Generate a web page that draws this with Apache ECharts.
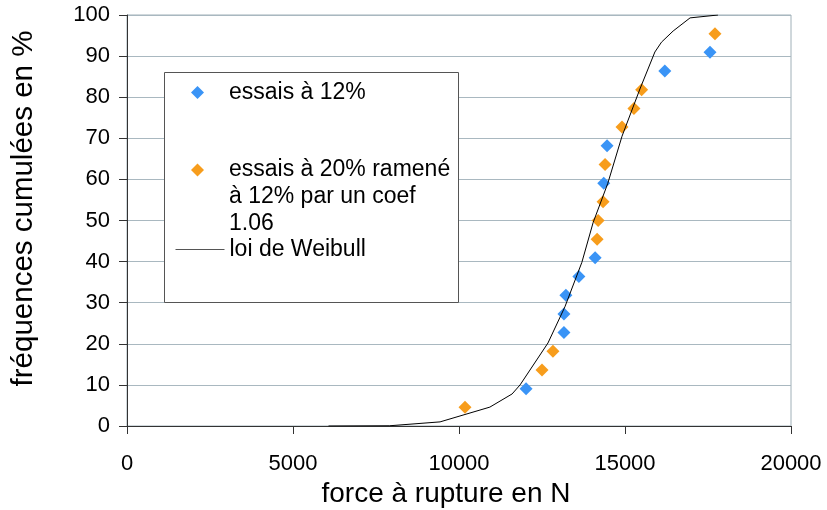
<!DOCTYPE html>
<html>
<head>
<meta charset="utf-8">
<script src="https://cdn.jsdelivr.net/npm/echarts@6/dist/echarts.min.js"></script>
<style>
  html, body { margin: 0; padding: 0; background: #fff; }
  #chart { width: 827px; height: 510px; }
</style>
</head>
<body>
<div id="chart"></div>
<script>
// essais à 12%
const blueX = [12020, 13160, 13160, 13220, 13610, 14100, 14360, 14460, 16200, 17560]
const blueY = [9.09, 22.73, 27.27, 31.82, 36.36, 40.91, 59.09, 68.18, 86.36, 90.91]
// essais à 20% ramené à 12%
const orangeX = [10180, 12500, 12830, 14160, 14190, 14340, 14400, 14910, 15270, 15500, 17710]
const orangeY = [4.55, 13.64, 18.18, 45.45, 50.0, 54.55, 63.64, 72.73, 77.27, 81.82, 95.45]
// loi de Weibull
const weibullX = [6070, 7900, 9430, 10930, 11600, 11840, 12680, 13190, 13700, 14040, 14480, 14910, 15450, 15900, 16100, 16450, 16960, 17800]
const weibullY = [0, 0.05, 1.0, 4.6, 7.8, 10, 20.2, 29, 39.8, 49.5, 59, 70.5, 82, 91, 93.4, 96.1, 99.3, 100]

const seriesNames = ['essais à 12%', 'essais à 20% ramené\nà 12% par un coef\n1.06', 'loi de Weibull']
const xTitle = 'force à rupture en N'
const yTitle = 'fréquences cumulées en %'

const font = 'Liberation Sans, Arial, sans-serif'
const pairs = (xs, ys) => xs.map((x, i) => [x, ys[i]])

const chart = echarts.init(document.getElementById('chart'))

const legendText = {
  fontFamily: font,
  fontSize: 23,
  lineHeight: 27,
  color: '#000',
  padding: [0, 0, 0, 20]
}

chart.setOption({
  animation: false,
  backgroundColor: '#fff',
  grid: {
    left: 127,
    right: 36,
    top: 15,
    bottom: 84,
    outerBoundsMode: 'none',
    show: true,
    borderColor: '#a0b0b8',
    borderWidth: 1
  },
  xAxis: {
    type: 'value',
    min: 0,
    max: 20000,
    interval: 5000,
    name: xTitle,
    nameLocation: 'middle',
    nameGap: 53,
    nameTextStyle: { fontFamily: font, fontSize: 28, color: '#000', padding: [0, 26, 0, 0] },
    axisLine: { lineStyle: { color: '#333' } },
    axisTick: { show: true, length: 8, lineStyle: { color: '#333' } },
    axisLabel: {
      margin: 27,
      fontFamily: font,
      fontSize: 22,
      color: '#000',
      formatter: (v) => String(v)
    },
    splitLine: { show: false }
  },
  yAxis: {
    type: 'value',
    min: 0,
    max: 100,
    interval: 10,
    name: yTitle,
    nameLocation: 'middle',
    nameGap: 88,
    nameTextStyle: { fontFamily: font, fontSize: 29.5, color: '#000', padding: [0, 0, 0, 24] },
    axisLine: { show: true, lineStyle: { color: '#333' } },
    axisTick: { show: true, length: 8, lineStyle: { color: '#333' } },
    axisLabel: { margin: 17, fontFamily: font, fontSize: 22, color: '#000' },
    splitLine: { show: true, lineStyle: { color: '#a9b8c0', width: 1 } }
  },
  graphic: [
    {
      type: 'rect',
      z: 3,
      shape: { x: 164.5, y: 72.5, width: 294, height: 230 },
      style: { fill: '#fff', stroke: '#555', lineWidth: 1 }
    }
  ],
  legend: [
    {
      data: [{ name: seriesNames[0], icon: 'diamond' }],
      left: 191,
      top: 79,
      padding: 0,
      itemWidth: 13,
      itemHeight: 13,
      textStyle: legendText,
      selectedMode: false
    },
    {
      // two blank lines above so the first text line sits level with the icon
      data: [{ name: seriesNames[1], icon: 'diamond' }],
      formatter: (name) => '\n\n' + name,
      left: 191,
      top: 102.5,
      padding: 0,
      itemWidth: 13,
      itemHeight: 13,
      textStyle: legendText,
      selectedMode: false
    },
    {
      data: [seriesNames[2]],
      left: 175,
      top: 236,
      padding: 0,
      itemWidth: 49,
      itemHeight: 13,
      lineStyle: { color: '#555', width: 1 },
      itemStyle: { opacity: 0 },
      textStyle: Object.assign({}, legendText, { padding: [0, 0, 0, 0] }),
      selectedMode: false
    }
  ],
  series: [
    {
      name: seriesNames[2],
      type: 'line',
      data: pairs(weibullX, weibullY),
      symbol: 'none',
      lineStyle: { color: '#000', width: 1 },
      itemStyle: { color: '#000' }
    },
    {
      name: seriesNames[0],
      type: 'scatter',
      data: pairs(blueX, blueY),
      symbol: 'diamond',
      symbolSize: 13,
      itemStyle: { color: '#3a94f6', opacity: 1 }
    },
    {
      name: seriesNames[1],
      type: 'scatter',
      data: pairs(orangeX, orangeY),
      symbol: 'diamond',
      symbolSize: 13,
      itemStyle: { color: '#f79d1c', opacity: 1 }
    }
  ]
})
</script>
</body>
</html>
